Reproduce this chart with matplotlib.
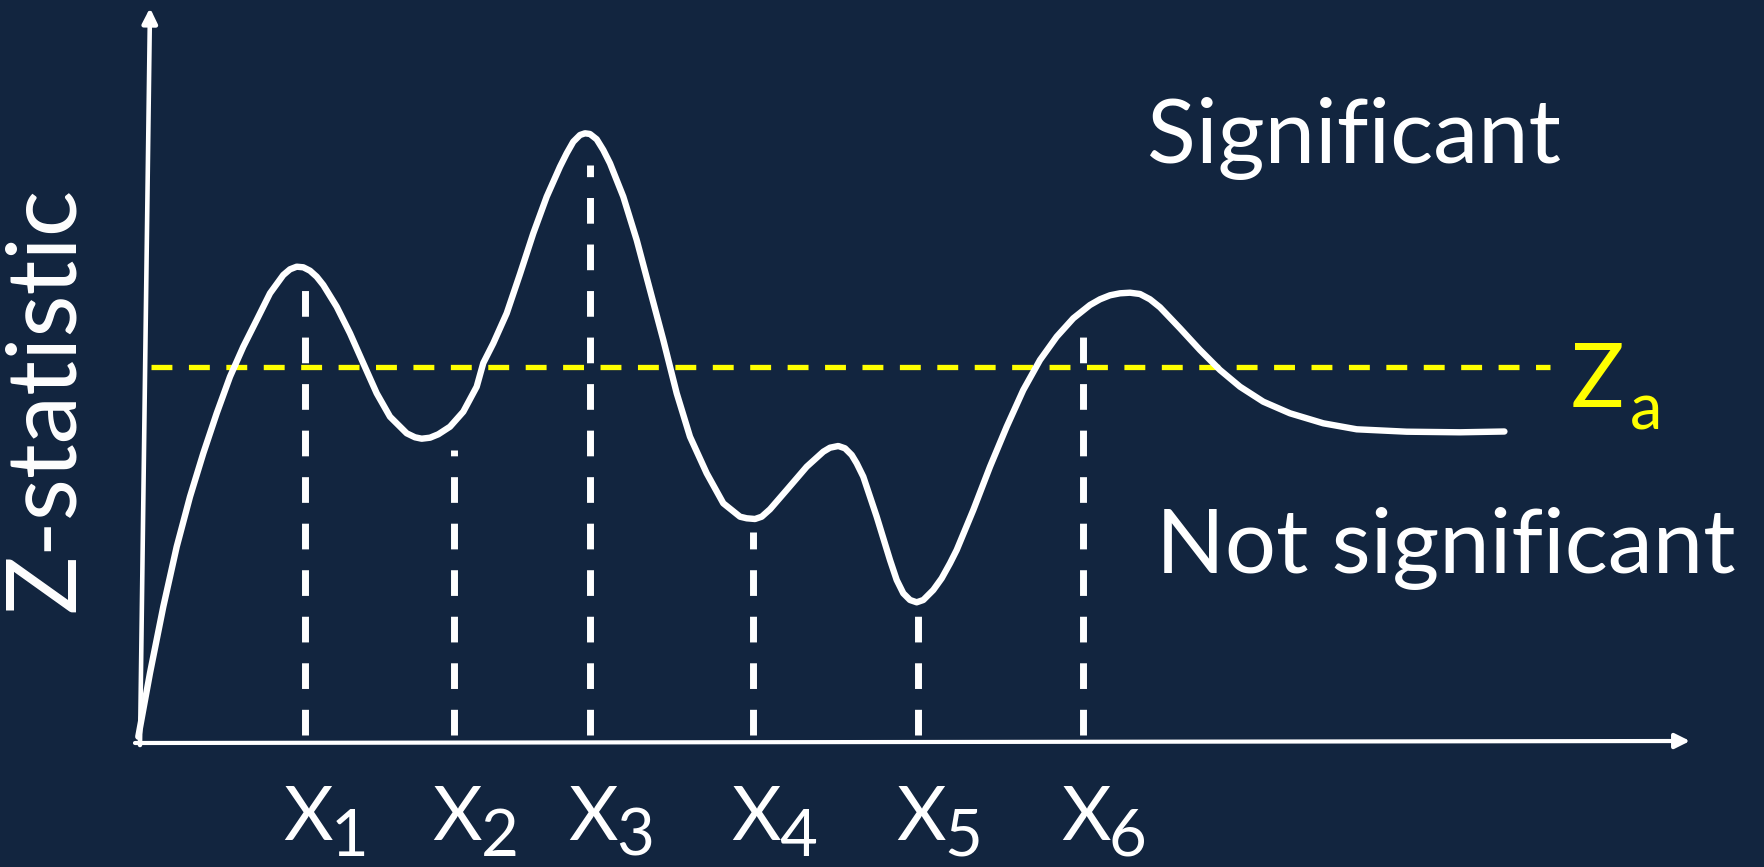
import matplotlib
matplotlib.use("Agg")
import matplotlib.pyplot as plt
import numpy as np

# curve (x along the axis, z = statistic)
curve_x = [0.013, 0.13, 0.263, 0.397, 0.53, 0.663, 0.797, 0.93, 1.063, 1.197,
           1.33, 1.463, 1.53, 1.597, 1.663, 1.73, 1.797, 1.863, 1.997, 2.13,
           2.263, 2.397, 2.53, 2.697, 2.78, 2.847, 2.93, 3.013, 3.13, 3.263,
           3.397, 3.463, 3.563, 3.697, 3.83, 3.963, 4.097, 4.23, 4.297, 4.363,
           4.43, 4.48, 4.53, 4.597, 4.663, 4.73, 4.863, 4.997, 5.13, 5.263,
           5.397, 5.53, 5.697, 5.863, 6.03, 6.097, 6.18, 6.247, 6.33, 6.497,
           6.697, 6.863, 6.93, 7.013, 7.08, 7.147, 7.197, 7.263, 7.397, 7.53,
           7.597, 7.663, 7.73, 7.797, 7.863, 7.963, 8.047, 8.13, 8.197, 8.363,
           8.53, 8.697, 8.863, 9.03, 9.197, 9.363, 9.53, 9.63, 9.73, 9.83,
           9.93, 10.03, 10.13, 10.23, 10.43, 10.63, 10.83, 11.03, 11.263, 11.53,
           11.863, 12.197, 12.697, 13.23, 13.674]
curve_z = [0.063, 0.70, 1.363, 1.963, 2.463, 2.897, 3.297, 3.663, 3.963, 4.23,
           4.497, 4.68, 4.737, 4.763, 4.757, 4.723, 4.663, 4.58, 4.363, 4.097,
           3.797, 3.497, 3.263, 3.097, 3.057, 3.043, 3.053, 3.087, 3.163, 3.313,
           3.563, 3.80, 3.997, 4.297, 4.69, 5.097, 5.463, 5.763, 5.897, 6.013,
           6.08, 6.097, 6.09, 6.037, 5.93, 5.797, 5.463, 5.03, 4.53, 4.03,
           3.497, 3.063, 2.697, 2.397, 2.263, 2.247, 2.24, 2.263, 2.337, 2.53,
           2.763, 2.913, 2.953, 2.97, 2.947, 2.88, 2.797, 2.663, 2.263, 1.83,
           1.63, 1.497, 1.43, 1.407, 1.43, 1.53, 1.647, 1.797, 1.93, 2.33,
           2.763, 3.163, 3.53, 3.83, 4.063, 4.247, 4.38, 4.437, 4.477, 4.497,
           4.503, 4.49, 4.437, 4.357, 4.147, 3.93, 3.73, 3.563, 3.413, 3.297,
           3.197, 3.137, 3.113, 3.107, 3.115]

# dashed drops at X1..X6
drop_x = [1.68, 3.175, 4.53, 6.165, 7.81, 9.46]
drop_top = [4.54, 2.93, 5.78, 2.11, 1.31, 4.25]
tick_labels = ["1", "2", "3", "4", "5", "6"]

z_alpha = 3.76
z_alpha_span = [0.14, 14.13]

BG = "#12253f"
FONT = "Lato"


def main():
    fig = plt.figure(figsize=(17.64, 8.67), dpi=100, facecolor=BG)
    ax = fig.add_axes([0, 0, 1, 1])
    ax.set_facecolor(BG)
    ax.set_xlim(-1.37, 16.27)
    ax.set_ylim(-1.24, 7.43)
    ax.axis("off")

    # axes with arrows
    ax.annotate("", xy=(0.13, 7.35), xytext=(0.03, -0.02),
                arrowprops=dict(arrowstyle="-|>", color="white", lw=3.3,
                                mutation_scale=22, shrinkA=0, shrinkB=0))
    ax.annotate("", xy=(15.53, 0.02), xytext=(-0.02, 0.0),
                arrowprops=dict(arrowstyle="-|>", color="white", lw=3,
                                mutation_scale=22, shrinkA=0, shrinkB=0))

    # threshold
    ax.plot(z_alpha_span, [z_alpha, z_alpha], color="#ffff00", lw=3.8,
            dashes=(3.96, 3.13), dash_capstyle="butt")

    # drop lines, dashed from the bottom up
    for x, top in zip(drop_x, drop_top):
        ax.plot([x, x], [0.08, top], color="white", lw=5, dashes=(3.7, 3.0),
                dash_capstyle="butt")

    ax.plot(curve_x, curve_z, color="white", lw=4.6, solid_joinstyle="round",
            solid_capstyle="round")

    # x labels
    for x, lab in zip(drop_x, tick_labels):
        ax.text(x - 0.22, -0.97, "X", color="white", fontsize=55, family=FONT,
                ha="left", va="baseline")
        ax.text(x + 0.26, -1.235, lab, color="white", fontsize=47, family=FONT,
                ha="left", va="bottom")

    ax.text(-0.90, 3.44, "Z-statistic", color="white", fontsize=70, family=FONT,
            rotation=90, ha="center", va="center")
    ax.text(10.1, 5.80, "Significant", color="white", fontsize=65, family=FONT,
            ha="left", va="baseline")
    ax.text(10.19, 1.70, "Not significant", color="white", fontsize=65, family=FONT,
            ha="left", va="baseline")
    ax.text(14.34, 3.356, "Z", color="#ffff00", fontsize=64, family=FONT,
            ha="left", va="baseline")
    ax.text(14.93, 3.14, "a", color="#ffff00", fontsize=47, family=FONT,
            ha="left", va="baseline")

    fig.savefig("out.png", dpi=100, facecolor=BG)


if __name__ == '__main__':
    main()
